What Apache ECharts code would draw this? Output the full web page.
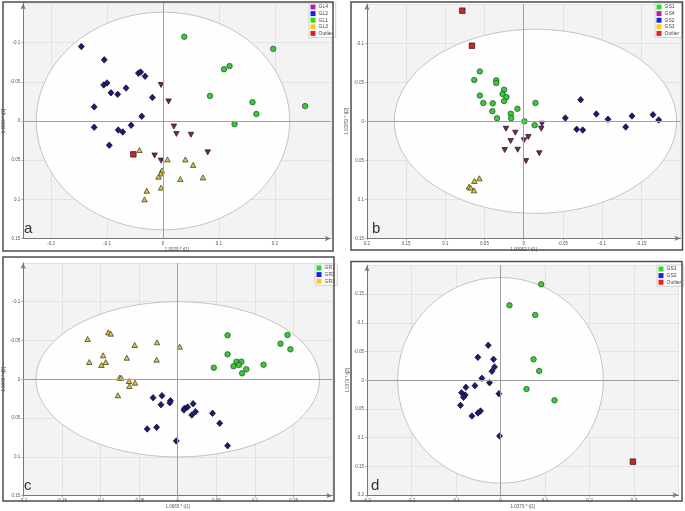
<!DOCTYPE html>
<html><head><meta charset="utf-8">
<script src="https://cdn.jsdelivr.net/npm/echarts@6/dist/echarts.min.js"></script>
<style>html,body{margin:0;padding:0;background:#fff}#c{width:685px;height:511px}</style>
</head><body><div id="c"></div>
<script>
// ---------- Panel a ----------
const aGL4 = [[-0.0035,-0.046],[0.010,-0.025],[0.0195,0.007],[0.024,0.0165],[0.050,0.0175],[-0.015,0.044],[-0.0035,0.0505],[0.080,0.040]];
const aGL2 = [[-0.146,-0.095],[-0.105,-0.078],[-0.044,-0.061],[-0.040,-0.0625],[-0.032,-0.057],[-0.106,-0.046],[-0.100,-0.0485],[-0.093,-0.036],[-0.081,-0.034],[-0.066,-0.042],[-0.019,-0.030],[-0.123,-0.018],[-0.038,-0.006],[-0.123,0.008],[-0.057,0.0055],[-0.080,0.0115],[-0.072,0.014],[-0.096,0.031]];
const aGL1 = [[0.038,-0.1075],[0.197,-0.092],[0.109,-0.066],[0.119,-0.070],[0.084,-0.032],[0.160,-0.024],[0.254,-0.019],[0.167,-0.009],[0.128,0.004]];
const aGL3 = [[-0.042,0.037],[0.008,0.049],[0.040,0.049],[0.054,0.056],[-0.002,0.063],[-0.004,0.067],[-0.008,0.071],[0.031,0.074],[0.0715,0.072],[-0.029,0.089],[-0.0035,0.085],[-0.033,0.100]];
const aOutlier = [[-0.053,0.0425]];
const aEllipse = [0, 0, 0.2265, 0.1388];
// ---------- Panel b ----------
const bGS1 = [[0.056,-0.064],[0.063,-0.053],[0.035,-0.0525],[0.035,-0.049],[0.025,-0.0405],[0.027,-0.035],[0.022,-0.031],[0.056,-0.033],[0.0515,-0.0235],[0.0395,-0.023],[0.025,-0.026],[-0.015,-0.0235],[0.008,-0.016],[0.040,-0.013],[0.0165,-0.0097],[0.034,-0.004],[0.016,-0.004],[-0.001,0],[-0.014,0.005]];
const bGS4 = [[0.0226,0.0095],[-0.0233,0.0031],[-0.0224,0.0095],[0.0107,0.0146],[-0.0059,0.0201],[0.0166,0.0253],[-0.0004,0.0244],[0.0242,0.0368],[0.0077,0.0364],[-0.0199,0.041],[-0.0029,0.0509]];
const bGS2 = [[-0.0531,-0.0042],[-0.0727,-0.0277],[-0.0676,0.0103],[-0.0753,0.0112],[-0.0926,-0.0094],[-0.1075,-0.0026],[-0.1301,0.0073],[-0.1381,-0.0068],[-0.1649,-0.0085],[-0.1722,-0.0017]];
const bGS3 = [[0.0566,0.0731],[0.063,0.0765],[0.0698,0.0838],[0.0676,0.0851],[0.0634,0.0885]];
const bOutlier = [[0.0783,-0.1418],[0.066,-0.0969]];
const bEllipse = [-0.015, 0, 0.18, 0.118];
// ---------- Panel c ----------
const cGR1 = [[0.0645,-0.0567],[0.142,-0.0571],[0.133,-0.0459],[0.1458,-0.0387],[0.0645,-0.0322],[0.076,-0.0227],[0.0824,-0.0227],[0.0791,-0.0184],[0.0722,-0.0168],[0.111,-0.0188],[0.0467,-0.015],[0.0888,-0.0129],[0.0833,-0.0077]];
const cGR2 = [[-0.0319,0.0237],[-0.0204,0.0211],[-0.0217,0.0327],[-0.0094,0.0276],[-0.0102,0.0302],[0.0199,0.0314],[0.0128,0.0357],[0.0089,0.0374],[0.008,0.0396],[0.023,0.0418],[0.0182,0.046],[0.045,0.0438],[0.0543,0.0567],[-0.0395,0.064],[-0.0273,0.0619],[-0.0018,0.0795],[0.0645,0.0856]];
const cGR3 = [[-0.1166,-0.0519],[-0.0898,-0.0606],[-0.0867,-0.0588],[-0.0557,-0.0442],[-0.0268,-0.0477],[0.0026,-0.042],[-0.1144,-0.0223],[-0.0966,-0.0309],[-0.0931,-0.0223],[-0.0987,-0.0184],[-0.0659,-0.0278],[-0.0273,-0.0253],[-0.0753,-0.0021],[-0.0732,-0.0021],[-0.063,0.0022],[-0.0553,0.0044],[-0.0625,0.0086],[-0.0774,0.0206]];
const cEllipse = [0, 0, 0.1834, 0.1];
// ---------- Panel d ----------
const dGS1 = [[0.0915,-0.1672],[0.0202,-0.1307],[0.078,-0.1138],[0.0742,-0.0366],[0.087,-0.0162],[0.0584,0.0152],[0.1213,0.0348]];
const dGS2 = [[-0.0276,-0.061],[-0.0508,-0.04],[-0.0157,-0.0366],[-0.0135,-0.0232],[-0.0193,-0.0157],[-0.0418,-0.0035],[-0.0247,0.0042],[-0.0575,0.0094],[-0.0778,0.0122],[-0.0036,0.0233],[-0.0876,0.0216],[-0.0793,0.0256],[-0.0831,0.0296],[-0.0899,0.0436],[-0.0449,0.0535],[-0.0508,0.057],[-0.0643,0.0622],[-0.0022,0.097]];
const dOutlier = [[0.2975,0.1418]];
const dEllipse = [0, 0, 0.231, 0.179];

const panelLetters = ['a','b','c','d'];
const xNames = ['1.0029 * t[1]','1.00052 * t[1]','1.0065 * t[1]','1.0379 * t[1]'];
const yNames = ['1.0029 * t[2]','1.00052 * t[2]','1.0065 * t[2]','1.0379 * t[2]'];

// styles
const LEG = {purple:'#b41eb4', blue:'#1e1ee6', green:'#28dc28', yellow:'#ffc81e', red:'#e61e1e'};
const MK = {
  blue:{symbol:'diamond', size:[6,6.5], color:'#1b1b72', border:'#08082e', rot:0},
  green:{symbol:'circle', size:5.5, color:'#3cc83c', border:'#1c4f1c', rot:0},
  purple:{symbol:'triangle', size:[5.5,5], color:'#6e2a60', border:'#2a0a22', rot:180},
  yellow:{symbol:'triangle', size:[5.5,5], color:'#d9c43c', border:'#333318', rot:0},
  red:{symbol:'rect', size:5.5, color:'#c42a2a', border:'#3a1010', rot:0}
};

const grids = [
  {left:20, top:3.4, width:310.8, height:235.2},
  {left:366.9, top:4.3, width:313.6, height:234},
  {left:20.7, top:262.9, width:311.6, height:232.8},
  {left:367, top:265.5, width:311.5, height:229.6}
];
grids.forEach(g => { g.show = true; g.backgroundColor = '#f3f3f3'; g.borderWidth = 0; });

const FONT = 'Liberation Sans, Arial, sans-serif';
const GRID_C = '#dedede';

function fmt(v){ return String(+v.toFixed(3)); }

function xAxis(i, min, max, interval, inverse, opts){
  return Object.assign({
    type:'value', gridIndex:i, min:min, max:max, interval:interval, inverse:inverse,
    name:xNames[i], nameLocation:'middle', nameGap:9,
    nameTextStyle:{fontSize:4.5, color:'#555', fontFamily:FONT},
    axisLine:{onZero:false, lineStyle:{color:'#777', width:1}, symbol:['none','arrow'], symbolSize:[4,6]},
    axisTick:{show:true, length:2, lineStyle:{color:'#888', width:0.6}},
    axisLabel:{fontSize:4.5, color:'#555', margin:3, fontFamily:FONT, formatter:fmt},
    splitLine:{show:true, lineStyle:{color:GRID_C, width:0.8}}
  }, opts || {});
}
function yAxis(i, min, max, interval, opts){
  return Object.assign({
    type:'value', gridIndex:i, min:min, max:max, interval:interval, inverse:true,
    name:yNames[i], nameLocation:'middle', nameGap:12, nameRotate:90,
    nameTextStyle:{fontSize:4.5, color:'#555', fontFamily:FONT},
    axisLine:{onZero:false, lineStyle:{color:'#777', width:1}, symbol:['none','arrow'], symbolSize:[4,6]},
    axisTick:{show:true, length:2, lineStyle:{color:'#888', width:0.6}},
    axisLabel:{fontSize:4.5, color:'#555', margin:3, fontFamily:FONT, formatter:fmt, showMinLabel:false},
    splitLine:{show:true, lineStyle:{color:GRID_C, width:0.8}}
  }, opts || {});
}

const xAxes = [
  xAxis(0, -0.25, 0.3, 0.05, false, {
    axisLabel:{fontSize:4.5, color:'#555', margin:3, fontFamily:FONT,
      formatter:function(v){ const t=v*10; return (Math.abs(t-Math.round(t))<1e-6 && v<0.25 && v>-0.25) ? fmt(v) : ''; }},
    axisTick:{show:false},
    splitLine:{show:true, lineStyle:{color:['rgba(0,0,0,0)', GRID_C], width:0.8}}
  }),
  xAxis(1, -0.2, 0.2, 0.05, true, {axisLabel:{fontSize:4.5, color:'#555', margin:3, fontFamily:FONT, formatter:fmt, showMinLabel:false}}),
  xAxis(2, -0.2, 0.2, 0.05, false, {axisLabel:{fontSize:4.5, color:'#555', margin:3, fontFamily:FONT, formatter:fmt, showMaxLabel:false}}),
  xAxis(3, -0.3, 0.4, 0.1, false, {axisLabel:{fontSize:4.5, color:'#555', margin:3, fontFamily:FONT, formatter:fmt, showMaxLabel:false}})
];
const yAxes = [
  yAxis(0, -0.15, 0.15, 0.05),
  yAxis(1, -0.15, 0.15, 0.05),
  yAxis(2, -0.15, 0.15, 0.05),
  yAxis(3, -0.2, 0.2, 0.05)
];

function ellipseSeries(i, e){
  return {
    type:'custom', xAxisIndex:i, yAxisIndex:i, silent:true, z:1, clip:true, animation:false,
    data:[e],
    renderItem:function(params, api){
      const cx=api.value(0), cy=api.value(1), rx=api.value(2), ry=api.value(3);
      const pts=[];
      for(let k=0;k<=200;k++){ const t=k/200*2*Math.PI; pts.push(api.coord([cx+rx*Math.cos(t), cy+ry*Math.sin(t)])); }
      return {type:'polygon', shape:{points:pts}, style:{fill:'rgba(255,255,255,0.92)', stroke:'#b5b5b5', lineWidth:0.8}};
    },
    markLine:{silent:true, symbol:'none', label:{show:false}, animation:false,
      lineStyle:{color:'#a0a0a0', width:1, type:'solid'},
      data:[{xAxis:0},{yAxis:0}]}
  };
}
function sc(i, name, data, key){
  const m = MK[key];
  return {
    type:'scatter', name:name, xAxisIndex:i, yAxisIndex:i, data:data, z:3,
    symbol:m.symbol, symbolSize:m.size, symbolRotate:m.rot, animation:false,
    itemStyle:{color:m.color, borderColor:m.border, borderWidth:0.7, opacity:1}
  };
}

const series = [
  ellipseSeries(0, aEllipse), ellipseSeries(1, bEllipse), ellipseSeries(2, cEllipse), ellipseSeries(3, dEllipse),
  sc(0,'GL4',aGL4,'purple'), sc(0,'GL2',aGL2,'blue'), sc(0,'GL1',aGL1,'green'), sc(0,'GL3',aGL3,'yellow'), sc(0,'Outlier',aOutlier,'red'),
  sc(1,'GS1',bGS1,'green'), sc(1,'GS4',bGS4,'purple'), sc(1,'GS2',bGS2,'blue'), sc(1,'GS3',bGS3,'yellow'), sc(1,'Outlier',bOutlier,'red'),
  sc(2,'GR1',cGR1,'green'), sc(2,'GR2',cGR2,'blue'), sc(2,'GR3',cGR3,'yellow'),
  sc(3,'GS1',dGS1,'green'), sc(3,'GS2',dGS2,'blue'), sc(3,'Outlier',dOutlier,'red')
];

function legend(left, top, items){
  return {
    left:left, top:top, orient:'vertical', selectedMode:false, icon:'rect',
    itemWidth:5, itemHeight:5, itemGap:1.6, padding:[1.5,2.5,1.5,1.5],
    backgroundColor:'#fff', borderColor:'#c4c4c4', borderWidth:0.8,
    textStyle:{fontSize:5, color:'#444', fontFamily:FONT, padding:[0,0,0,-2]},
    data: items.map(it => ({name:it[0], itemStyle:{color:it[1], borderWidth:0}}))
  };
}
const legends = [
  legend(309, 3, [['GL4',LEG.purple],['GL2',LEG.blue],['GL1',LEG.green],['GL3',LEG.yellow],['Outlier',LEG.red]]),
  legend(655, 3, [['GS1',LEG.green],['GS4',LEG.purple],['GS2',LEG.blue],['GS3',LEG.yellow],['Outlier',LEG.red]]),
  legend(315, 264, [['GR1',LEG.green],['GR2',LEG.blue],['GR3',LEG.yellow]]),
  legend(657, 265, [['GS1',LEG.green],['GS2',LEG.blue],['Outlier',LEG.red]])
];

const frames = [[3,2,330,249],[351,2,331.5,248],[3,257,331,244],[351,261.5,331,239.5]];
const letterPos = [[24,221],[372,221],[24,478],[371,478]];
const graphic = [];
frames.forEach(f => graphic.push({type:'rect', shape:{x:f[0],y:f[1],width:f[2],height:f[3]}, style:{fill:'none', stroke:'#4d4d4d', lineWidth:1.5}, z:100, silent:true}));
letterPos.forEach((p,i) => graphic.push({type:'text', left:p[0], top:p[1], style:{text:panelLetters[i], fontSize:15, fill:'#333', fontFamily:FONT}, z:100, silent:true}));

const chart = echarts.init(document.getElementById('c'), null, {renderer:'canvas'});
chart.setOption({
  animation:false,
  grid:grids, xAxis:xAxes, yAxis:yAxes, series:series, legend:legends, graphic:graphic
});
</script>
</body></html>
